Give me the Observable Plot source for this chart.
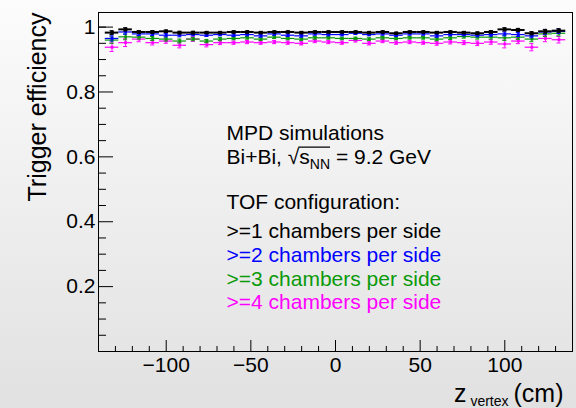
<!DOCTYPE html>
<html>
<head>
<meta charset="utf-8">
<script src="https://cdn.jsdelivr.net/npm/d3@7"></script>
<script src="https://cdn.jsdelivr.net/npm/@observablehq/plot@0.6"></script>
<style>
  html, body { margin: 0; padding: 0; }
  body { width: 576px; height: 408px; background: linear-gradient(#fcfcfc, #e1e1e1); overflow: hidden; }
  svg { display: block; }
</style>
</head>
<body>
<div id="chart"></div>
<script>
// ---- data ----
const zCenters = [-132,-124,-116,-108,-100,-92,-84,-76,-68,-60,-52,-44,-36,-28,-20,-12,-4,4,12,20,28,36,44,52,60,68,76,84,92,100,108,116,124,132];
const binHalfWidth = 4;

const eff1 = [0.983,0.993,0.985,0.985,0.987,0.983,0.983,0.983,0.983,0.985,0.985,0.983,0.985,0.985,0.983,0.985,0.985,0.985,0.985,0.983,0.985,0.981,0.985,0.985,0.983,0.985,0.983,0.981,0.985,0.993,0.991,0.981,0.987,0.989];
const err1 = [0.006,0.005,0.004,0.004,0.004,0.004,0.004,0.003,0.003,0.003,0.003,0.003,0.003,0.003,0.003,0.003,0.003,0.003,0.003,0.003,0.003,0.003,0.003,0.003,0.003,0.003,0.003,0.004,0.004,0.005,0.005,0.005,0.006,0.006];

const eff2 = [0.965,0.985,0.979,0.979,0.975,0.975,0.977,0.975,0.977,0.975,0.977,0.973,0.979,0.975,0.973,0.979,0.977,0.977,0.981,0.977,0.979,0.975,0.979,0.979,0.973,0.977,0.977,0.975,0.977,0.979,0.977,0.973,0.985,0.987];
const err2 = [0.008,0.007,0.005,0.005,0.005,0.005,0.004,0.004,0.004,0.004,0.004,0.004,0.004,0.004,0.004,0.004,0.004,0.004,0.004,0.004,0.004,0.004,0.004,0.004,0.004,0.004,0.004,0.005,0.005,0.006,0.006,0.006,0.007,0.007];

const eff3 = [0.960,0.970,0.969,0.965,0.963,0.957,0.963,0.957,0.963,0.965,0.967,0.963,0.969,0.965,0.963,0.967,0.967,0.965,0.965,0.963,0.967,0.965,0.967,0.967,0.963,0.967,0.971,0.969,0.969,0.967,0.969,0.963,0.979,0.981];
const err3 = [0.010,0.009,0.006,0.006,0.006,0.006,0.005,0.005,0.005,0.004,0.004,0.004,0.004,0.004,0.004,0.004,0.004,0.004,0.004,0.004,0.004,0.004,0.004,0.004,0.005,0.005,0.005,0.006,0.006,0.008,0.007,0.008,0.008,0.008];

const eff4 = [0.938,0.952,0.963,0.952,0.957,0.944,0.963,0.946,0.952,0.952,0.954,0.952,0.954,0.952,0.950,0.957,0.954,0.952,0.959,0.950,0.957,0.952,0.954,0.952,0.950,0.954,0.952,0.950,0.954,0.948,0.957,0.938,0.965,0.961];
const err4 = [0.013,0.012,0.008,0.007,0.007,0.008,0.007,0.007,0.006,0.005,0.005,0.005,0.005,0.005,0.005,0.005,0.005,0.005,0.005,0.005,0.005,0.005,0.005,0.005,0.006,0.006,0.006,0.007,0.007,0.012,0.008,0.011,0.010,0.010];

const seriesNames = [">=1 chambers per side", ">=2 chambers per side", ">=3 chambers per side", ">=4 chambers per side"];
const seriesColors = ["#000000", "#0000ff", "#0a9a0a", "#ff00ff"];

const xTicks = [-100, -50, 0, 50, 100];
const xTickLabels = ["\u2212100", "\u221250", "0", "50", "100"];
const xMinorTicks = [-130,-120,-110,-90,-80,-70,-60,-40,-30,-20,-10,10,20,30,40,60,70,80,90,110,120,130];
const yTicks = [0.2, 0.4, 0.6, 0.8, 1];
const yTickLabels = ["0.2", "0.4", "0.6", "0.8", "1"];
const yMinorTicks = [0.05,0.1,0.15,0.25,0.3,0.35,0.45,0.5,0.55,0.65,0.7,0.75,0.85,0.9,0.95,1.0];

const headerLines = ["MPD simulations", "Bi+Bi, \u221AsNN = 9.2 GeV", "TOF configuration:"];

// ---- build table ----
const effs = [eff1, eff2, eff3, eff4];
const errs = [err1, err2, err3, err4];
const rows = [];
effs.forEach((arr, s) => arr.forEach((v, i) => rows.push({
  s, z: zCenters[i], lo: zCenters[i] - binHalfWidth, hi: zCenters[i] + binHalfWidth,
  v, e: errs[s][i]
})));
const capHalf = 1.2;

function seriesMarks(s) {
  const d = rows.filter(r => r.s === s);
  const c = seriesColors[s];
  const sw = s === 0 ? 2 : 1.2;
  return [
    Plot.ruleY(d, {y: "v", x1: "lo", x2: "hi", stroke: c, strokeWidth: sw}),
    Plot.ruleX(d, {x: "z", y1: r => r.v - r.e, y2: r => r.v + r.e, stroke: c, strokeWidth: 1}),
    Plot.ruleY(d, {y: r => r.v - r.e, x1: r => r.z - capHalf, x2: r => r.z + capHalf, stroke: c, strokeWidth: 1}),
    Plot.ruleY(d, {y: r => r.v + r.e, x1: r => r.z - capHalf, x2: r => r.z + capHalf, stroke: c, strokeWidth: 1}),
    Plot.dot(d, {x: "z", y: "v", symbol: "square", r: s === 0 ? 2 : 1.6, fill: c, stroke: null})
  ];
}

const font = "'Liberation Sans', Arial, Helvetica, sans-serif";
const textLines = [
  {t: headerLines[0], c: "#000", dy: 121},
  {t: headerLines[1], c: "#000", dy: 145},
  {t: headerLines[2], c: "#000", dy: 190},
  {t: seriesNames[0], c: seriesColors[0], dy: 219},
  {t: seriesNames[1], c: seriesColors[1], dy: 243},
  {t: seriesNames[2], c: seriesColors[2], dy: 267},
  {t: seriesNames[3], c: seriesColors[3], dy: 290}
];

const plot = Plot.plot({
  width: 576,
  height: 408,
  marginLeft: 98,
  marginRight: 4,
  marginTop: 12,
  marginBottom: 57,
  style: {background: "transparent", fontFamily: font, fontSize: "21px", color: "#000", overflow: "visible"},
  x: {domain: [-140, 140]},
  y: {domain: [0, 1.045]},
  marks: [
    Plot.frame({stroke: "#000", strokeWidth: 1}),
    // y axis
    Plot.axisY({ticks: yTicks, tickSize: 0, tickPadding: 3, tickFormat: d => yTickLabels[yTicks.indexOf(d)], fontSize: 21, label: null}),
    Plot.axisY({ticks: yTicks, tickSize: -15, tickFormat: () => "", label: null}),
    Plot.axisY({ticks: yMinorTicks, tickSize: -8, tickFormat: () => "", label: null}),
    // x axis
    Plot.axisX({ticks: xTicks, tickSize: 0, tickPadding: 6, tickFormat: d => xTickLabels[xTicks.indexOf(d)], fontSize: 21, label: null}),
    Plot.axisX({ticks: xTicks, tickSize: -11, tickFormat: () => "", label: null}),
    Plot.axisX({ticks: xMinorTicks, tickSize: -5, tickFormat: () => "", label: null}),
    // series, drawn back to front
    ...seriesMarks(3), ...seriesMarks(2), ...seriesMarks(1), ...seriesMarks(0),
    // annotation lines
    ...textLines.map(l => Plot.text([l.t], {frameAnchor: "top-left", lineAnchor: "middle", dx: 128, dy: l.dy, textAnchor: "start", fill: l.c, fontSize: 21, text: d => d})),
    // axis titles
    Plot.text(["Trigger efficiency"], {frameAnchor: "top-left", lineAnchor: "middle", dx: -61, dy: 0, rotate: -90, textAnchor: "end", fontSize: 25, text: d => d}),
    Plot.text(["z(cm)"], {frameAnchor: "bottom-right", lineAnchor: "middle", dx: -9, dy: 42, textAnchor: "end", fontSize: 25, text: d => d})
  ]
});
document.getElementById("chart").appendChild(plot);

// rich text: subscripts and square-root overline
const svg = d3.select(plot);
svg.selectAll("text").each(function() {
  const el = d3.select(this);
  const t = el.text();
  if (t === headerLines[1]) {
    const ts = el.select("tspan").empty() ? el : el.select("tspan");
    ts.text(null);
    ts.append("tspan").text("Bi+Bi, ");
    ts.append("tspan").attr("class", "rad").text("\u221A");
    ts.append("tspan").attr("class", "sv").text("s");
    ts.append("tspan").attr("class", "nn").attr("font-size", 14).attr("dy", 5).text("NN");
    ts.append("tspan").attr("dy", -5).text(" = 9.2 GeV");
    const node = this;
    try {
      const n1 = "Bi+Bi, ".length; // radical index
      const r0 = node.getExtentOfChar(n1);
      const r1 = node.getExtentOfChar(n1 + 3);
      const yTop = r0.y + 2;
      d3.select(node.parentNode).append("line")
        .attr("x1", r0.x + r0.width - 1).attr("x2", r1.x + r1.width)
        .attr("y1", yTop).attr("y2", yTop)
        .attr("stroke", "#000").attr("stroke-width", 1.2)
        .attr("transform", d3.select(node).attr("transform"));
    } catch (e) {}
  } else if (t === "z(cm)") {
    const ts = el.select("tspan").empty() ? el : el.select("tspan");
    ts.text(null);
    ts.append("tspan").text("z");
    ts.append("tspan").attr("font-size", 14).attr("dy", 4).attr("dx", 4).text("vertex");
    ts.append("tspan").attr("dy", -4).attr("dx", 5).text("(cm)");
  }
});
</script>
</body>
</html>
